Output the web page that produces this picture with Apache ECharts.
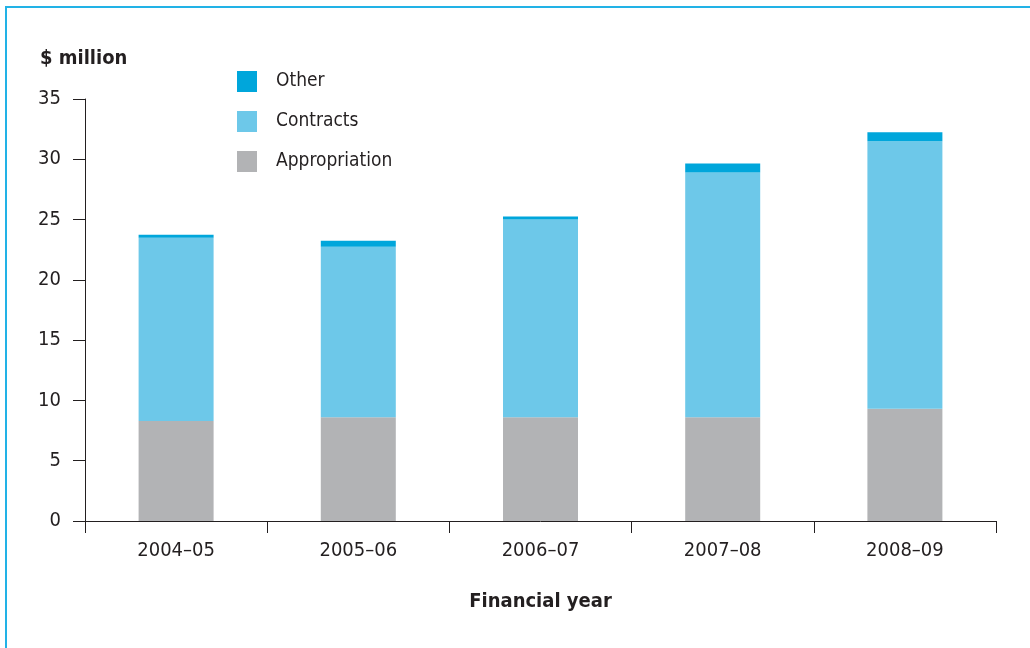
<!DOCTYPE html>
<html>
<head>
<meta charset="utf-8">
<title>Funding by source, 2004–05 to 2008–09</title>
<script src="https://cdn.jsdelivr.net/npm/echarts@6/dist/echarts.min.js"></script>
<style>
  html, body { margin: 0; padding: 0; background: #fff; overflow: hidden; }
  #frame {
    position: absolute; left: 5px; top: 6px; width: 1100px; height: 700px;
    border-left: 2px solid #22b2e6; border-top: 2px solid #22b2e6;
  }
  #chart { position: absolute; left: 0; top: 0; width: 1030px; height: 648px; }
</style>
</head>
<body>
<div id="frame"></div>
<div id="chart"></div>
<script>
// Financial years on the category axis
const years = ['2004–05', '2005–06', '2006–07', '2007–08', '2008–09'];

// Funding by source, $ million (stacked bottom to top)
const appropriation = [8.3, 8.6, 8.6, 8.6, 9.3];
const contracts = [15.2, 14.15, 16.4, 20.3, 22.2];
const other = [0.24, 0.5, 0.25, 0.75, 0.75];

// Value axis ticks
const yMin = 0;
const yMax = 35;
const yStep = 5;

const FONT = '"DejaVu Sans Condensed", "Liberation Sans Narrow", "Liberation Sans", sans-serif';
const INK = '#231f20';

const chart = echarts.init(document.getElementById('chart'), null, { renderer: 'canvas' });

const barW = 75;

chart.setOption({
  animation: false,
  backgroundColor: 'transparent',
  textStyle: { fontFamily: FONT, color: INK },
  grid: { left: 85, right: 34, top: 99, bottom: 127, containLabel: false },
  legend: {
    orient: 'vertical',
    left: 237,
    top: 71,
    padding: 0,
    itemWidth: 20,
    itemHeight: 21,
    itemGap: 19,
    icon: 'rect',
    selectedMode: false,
    data: ['Other', 'Contracts', 'Appropriation'],
    textStyle: { fontFamily: FONT, fontSize: 19, color: INK, padding: [0, 0, 0, 14] }
  },
  graphic: [{
    type: 'text',
    left: 40,
    top: 49,
    style: { text: '$ million', font: 'bold 20px ' + FONT, fill: INK }
  }],
  xAxis: {
    type: 'category',
    data: years,
    name: 'Financial year',
    nameLocation: 'middle',
    nameGap: 71,
    nameTextStyle: { fontFamily: FONT, fontSize: 20, fontWeight: 'bold', color: INK },
    axisLine: { lineStyle: { color: INK, width: 1 } },
    axisTick: { show: true, length: 12, alignWithLabel: false, lineStyle: { color: INK } },
    axisLabel: { fontFamily: FONT, fontSize: 20, color: INK, margin: 20 },
    splitLine: { show: false }
  },
  yAxis: {
    type: 'value',
    min: yMin,
    max: yMax,
    interval: yStep,
    axisLine: { show: true, lineStyle: { color: INK, width: 1 } },
    axisTick: { show: true, length: 12, lineStyle: { color: INK } },
    axisLabel: { fontFamily: FONT, fontSize: 20, color: INK, margin: 24 },
    splitLine: { show: false }
  },
  series: [
    {
      name: 'Appropriation', type: 'bar', stack: 'total', data: appropriation,
      barWidth: barW, itemStyle: { color: '#b2b3b5' }
    },
    {
      name: 'Contracts', type: 'bar', stack: 'total', data: contracts,
      barWidth: barW, itemStyle: { color: '#6dc8e9' }
    },
    {
      name: 'Other', type: 'bar', stack: 'total', data: other,
      barWidth: barW, itemStyle: { color: '#00a6db' }
    }
  ]
});
</script>
</body>
</html>
